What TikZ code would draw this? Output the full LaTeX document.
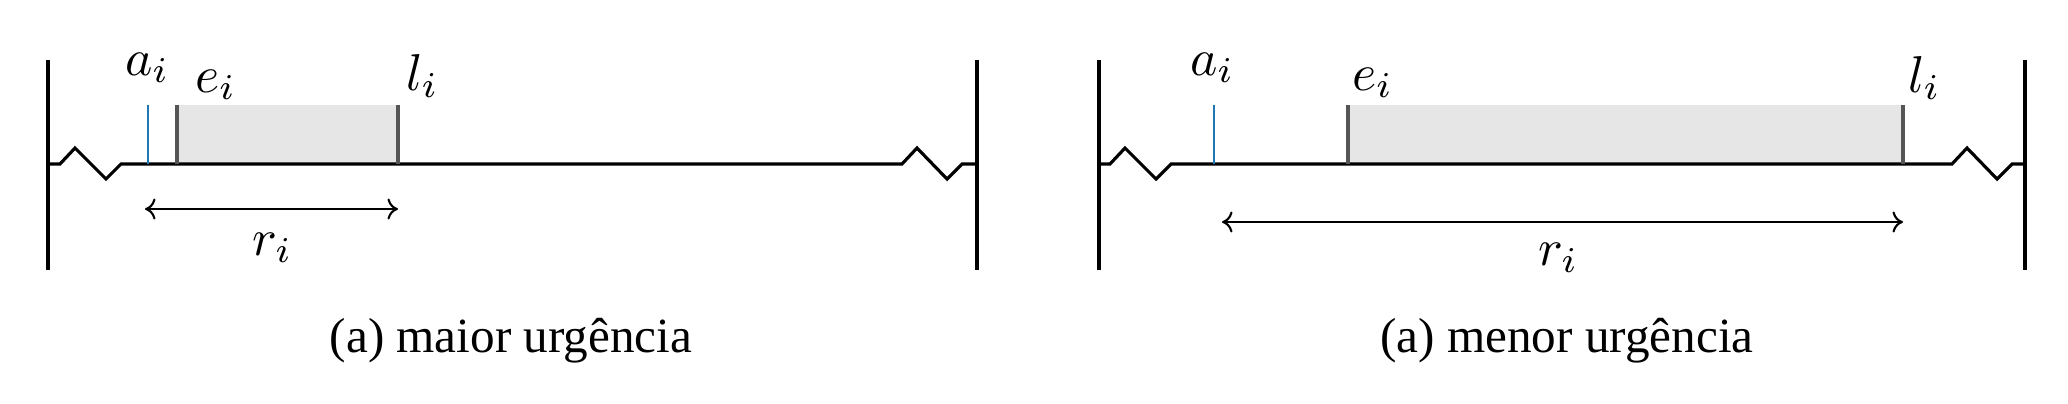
\documentclass[tikz,border=0pt]{standalone}
\usepackage{fontspec}
\setmainfont{Liberation Serif}
\usetikzlibrary{arrows.meta}
\definecolor{tickblue}{HTML}{1F77B4}
\definecolor{tickgray}{HTML}{555555}
\definecolor{winfill}{HTML}{E6E6E6}
\tikzset{
  wall/.style={line width=2.4pt, black},
  axis/.style={line width=1.8pt, black, line join=miter},
  arrtick/.style={line width=1.3pt, tickblue},
  wintick/.style={line width=1.8pt, tickgray},
  span/.style={line width=1.2pt, black, {To[length=6pt,width=12pt]}-{To[length=6pt,width=12pt]}},
  lab/.style={inner sep=0pt, anchor=base west, font=\fontsize{10}{12}\selectfont, scale=2.95},
  captext/.style={inner sep=0pt, anchor=base, font=\fontsize{28}{34}\selectfont},
}
\begin{document}
\begin{tikzpicture}[x=0.02cm, y=-0.02cm]
\useasboundingbox (0,0) rectangle (2068,403);
% ---------- left panel ----------
\coordinate (Lwt) at (48,60); \coordinate (Lwb) at (48,270);
\coordinate (Rwt) at (977,60); \coordinate (Rwb) at (977,270);
\coordinate (La) at (148,164); \coordinate (Lat) at (148,105);
\coordinate (Le) at (177,164); \coordinate (Let) at (177,105);
\coordinate (Ll) at (398,164); \coordinate (Llt) at (398,105);
\fill[winfill] (Let) rectangle (Ll);
\draw[axis] (48,164) -- (60,164) -- (75,148) -- (106,179) -- (121,164)
   -- (902,164) -- (917,148) -- (947,179) -- (962,164) -- (977,164);
\draw[arrtick] (La) -- (Lat);
\draw[wintick] (Le) -- (Let);
\draw[wintick] (Ll) -- (Llt);
\draw[wall] (Lwt) -- (Lwb);
\draw[wall] (Rwt) -- (Rwb);
\coordinate (Lrs) at (145,209); \coordinate (Lre) at (398,209);
\draw[span] (Lrs) -- (Lre);
\node[lab] (la) at (124,75) {$a_i$};
\node[lab] (le) at (194,92) {$e_i$};
\node[lab] (ll) at (405,90) {$l_i$};
\node[lab] (lr) at (251,255) {$r_i$};
\node[captext] (lcap) at (511,352) {(a) maior urgência};
% ---------- right panel ----------
\coordinate (Mwt) at (1099,60); \coordinate (Mwb) at (1099,270);
\coordinate (Nwt) at (2025,60); \coordinate (Nwb) at (2025,270);
\coordinate (Ma) at (1214,164); \coordinate (Mat) at (1214,105);
\coordinate (Me) at (1348,164); \coordinate (Met) at (1348,105);
\coordinate (Ml) at (1903,164); \coordinate (Mlt) at (1903,105);
\fill[winfill] (Met) rectangle (Ml);
\draw[axis] (1099,164) -- (1110,164) -- (1125,148) -- (1156,179) -- (1171,164)
   -- (1952,164) -- (1967,148) -- (1997,179) -- (2012,164) -- (2025,164);
\draw[arrtick] (Ma) -- (Mat);
\draw[wintick] (Me) -- (Met);
\draw[wintick] (Ml) -- (Mlt);
\draw[wall] (Mwt) -- (Mwb);
\draw[wall] (Nwt) -- (Nwb);
\coordinate (Mrs) at (1222,222); \coordinate (Mre) at (1903,222);
\draw[span] (Mrs) -- (Mre);
\node[lab] (ma) at (1189,75) {$a_i$};
\node[lab] (me) at (1351,90) {$e_i$};
\node[lab] (ml) at (1907,92) {$l_i$};
\node[lab] (mr) at (1537,265) {$r_i$};
\node[captext] (mcap) at (1567,352) {(a) menor urgência};
\end{tikzpicture}
\end{document}
